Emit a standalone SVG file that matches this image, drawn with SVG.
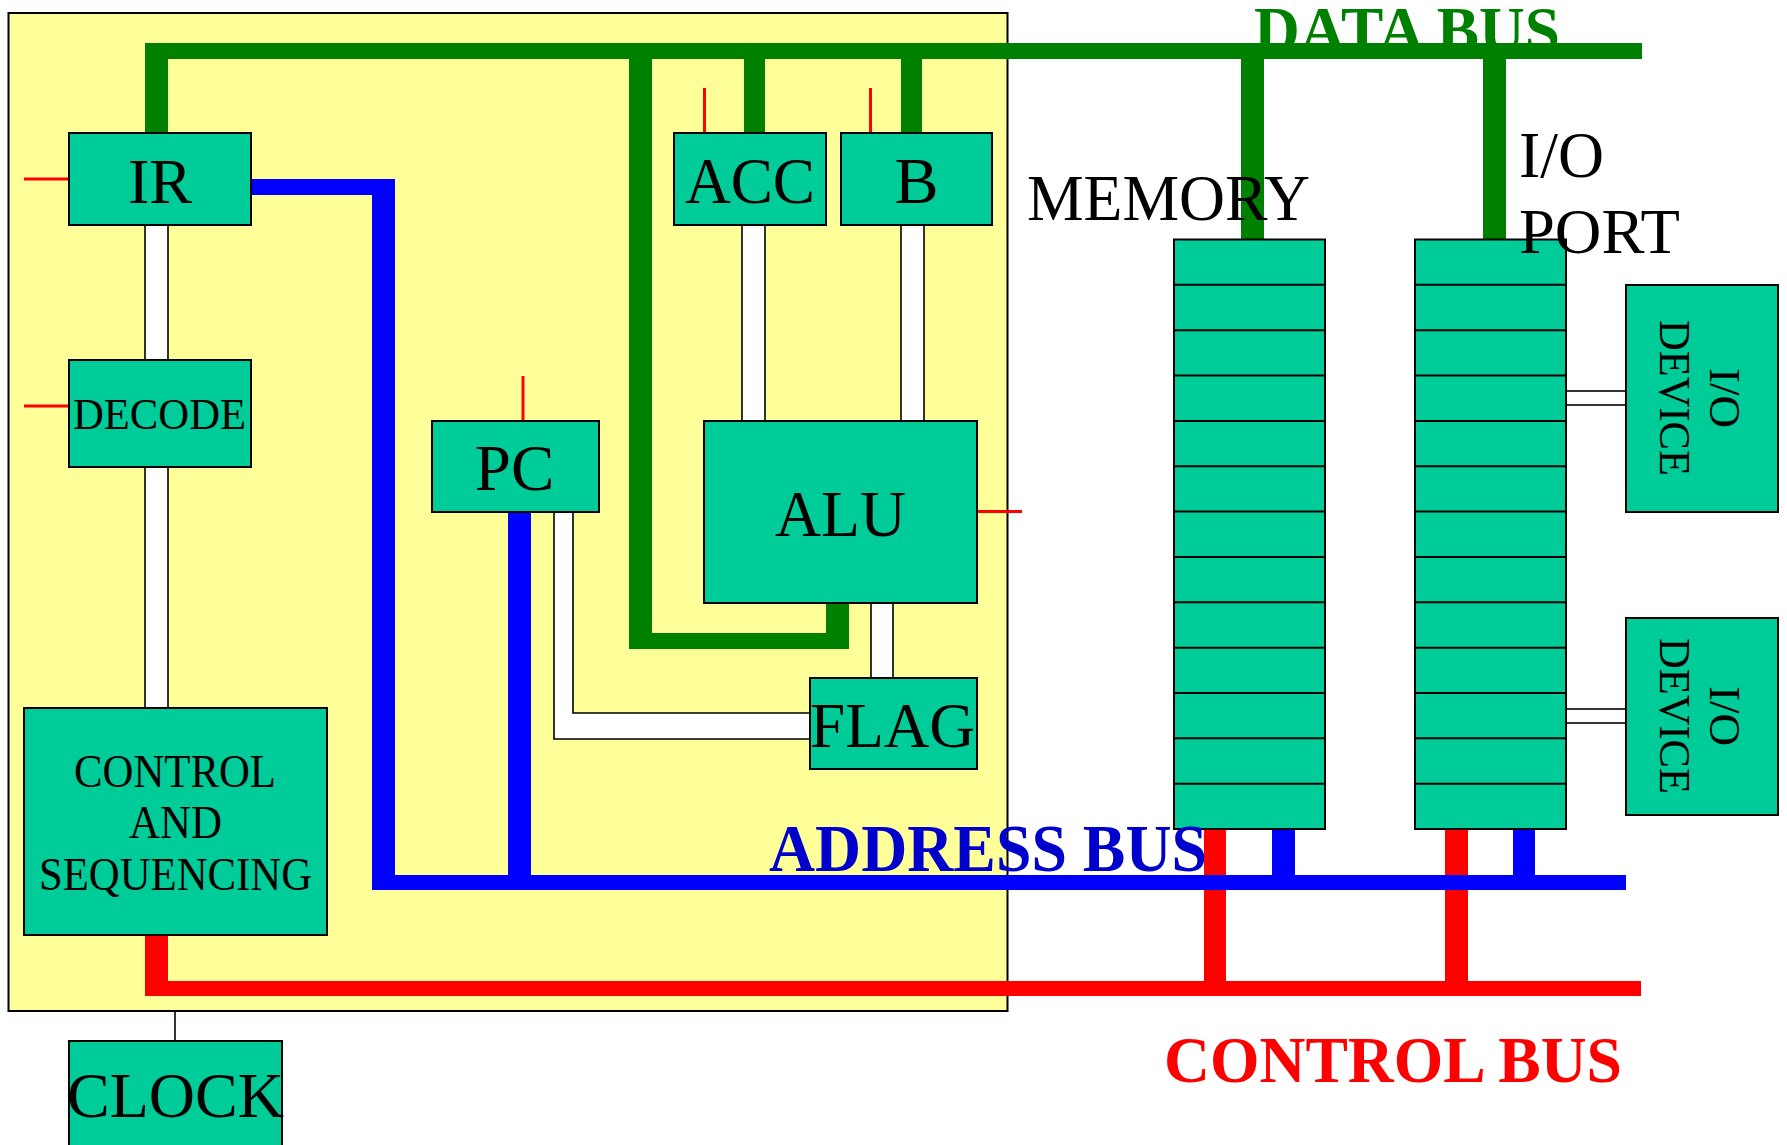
<svg xmlns="http://www.w3.org/2000/svg" width="1787" height="1145" viewBox="0 0 1787 1145">
<style>
  .box{fill:#00CC99;stroke:#000;stroke-width:2}
  .lbl{font-family:"Liberation Serif","Times New Roman",serif;fill:#000}
  .bus{font-family:"Liberation Serif","Times New Roman",serif;font-weight:bold}
  .wire{fill:#fff;stroke:#000;stroke-width:1.6}
  .sig{stroke:#FF0000;stroke-width:3;fill:none}
  .cell{stroke:#000;stroke-width:2}
</style>
<rect width="1787" height="1145" fill="#fff"/>
<!-- CPU area -->
<rect id="cpu" x="8.5" y="13" width="999" height="998" fill="#FFFF99" stroke="#000" stroke-width="2"/>

<text id="data-bus-label" class="bus" x="1254" y="52" font-size="66" fill="#008000" textLength="306" lengthAdjust="spacingAndGlyphs">DATA BUS</text>

<g id="connectors">
  <!-- control bus (red) -->
  <rect x="145" y="981" width="1496" height="15" fill="#FF0000"/>
  <rect x="145" y="934" width="23" height="50" fill="#FF0000"/>
  <rect x="1204" y="828" width="22" height="156" fill="#FF0000"/>
  <rect x="1445" y="828" width="23" height="156" fill="#FF0000"/>
  <!-- address bus (blue) -->
  <polygon points="250,179 395,179 395,875 1626,875 1626,890 372,890 372,195 250,195" fill="#0000FF"/>
  <rect x="508" y="511" width="23" height="366" fill="#0000FF"/>
  <rect x="1272" y="828" width="23" height="49" fill="#0000FF"/>
  <rect x="1513" y="828" width="22" height="49" fill="#0000FF"/>
  <!-- data bus (green) -->
  <rect x="145" y="43" width="1497" height="16" fill="#008000"/>
  <rect x="145" y="43" width="23" height="91" fill="#008000"/>
  <polygon points="629,50 652,50 652,633 826,633 826,602 849,602 849,649 629,649" fill="#008000"/>
  <rect x="744" y="43" width="21" height="91" fill="#008000"/>
  <rect x="901" y="43" width="21" height="91" fill="#008000"/>
  <rect x="1241" y="43" width="23" height="197" fill="#008000"/>
  <rect x="1483" y="43" width="23" height="197" fill="#008000"/>
  <!-- internal white paths -->
  <rect class="wire" x="145" y="225" width="23" height="135"/>
  <rect class="wire" x="145" y="467" width="23" height="241"/>
  <rect class="wire" x="742" y="225" width="23" height="196"/>
  <rect class="wire" x="901" y="225" width="23" height="196"/>
  <rect class="wire" x="871" y="603" width="22" height="75"/>
  <polygon class="wire" points="554,512 573,512 573,713 810,713 810,739 554,739"/>
  <rect class="wire" x="1566" y="391" width="60" height="14"/>
  <rect class="wire" x="1566" y="709" width="60" height="14"/>
  <!-- control signal ticks -->
  <line class="sig" x1="24" y1="179" x2="69" y2="179"/>
  <line class="sig" x1="24" y1="406" x2="69" y2="406"/>
  <line class="sig" x1="523" y1="376" x2="523" y2="421"/>
  <line class="sig" x1="704.5" y1="88" x2="704.5" y2="133"/>
  <line class="sig" x1="870.5" y1="88" x2="870.5" y2="133"/>
  <line class="sig" x1="977" y1="511.5" x2="1022" y2="511.5"/>
  <!-- clock line -->
  <line x1="175" y1="1011" x2="175" y2="1041" stroke="#000" stroke-width="1.6"/>
</g>

<g id="ir">
  <rect class="box" x="69" y="133" width="182" height="92"/>
  <text class="lbl" x="160" y="203" font-size="64" text-anchor="middle">IR</text>
</g>
<g id="decode">
  <rect class="box" x="69" y="360" width="182" height="107"/>
  <text class="lbl" x="73" y="429" font-size="44" textLength="173" lengthAdjust="spacingAndGlyphs">DECODE</text>
</g>
<g id="control">
  <rect class="box" x="24" y="708" width="303" height="227"/>
  <text class="lbl" x="74" y="787" font-size="47" textLength="202" lengthAdjust="spacingAndGlyphs">CONTROL</text>
  <text class="lbl" x="129" y="838" font-size="47" textLength="93" lengthAdjust="spacingAndGlyphs">AND</text>
  <text class="lbl" x="39" y="890" font-size="47" textLength="273" lengthAdjust="spacingAndGlyphs">SEQUENCING</text>
</g>
<g id="clock">
  <rect class="box" x="69" y="1041" width="213" height="120"/>
  <text class="lbl" x="67" y="1117" font-size="63" textLength="217" lengthAdjust="spacingAndGlyphs">CLOCK</text>
</g>
<g id="pc">
  <rect class="box" x="432" y="421" width="167" height="91"/>
  <text class="lbl" x="514.5" y="490" font-size="65" text-anchor="middle">PC</text>
</g>
<g id="acc">
  <rect class="box" x="674" y="133" width="152" height="92"/>
  <text class="lbl" x="685" y="203" font-size="66" textLength="130" lengthAdjust="spacingAndGlyphs">ACC</text>
</g>
<g id="b">
  <rect class="box" x="841" y="133" width="151" height="92"/>
  <text class="lbl" x="916.5" y="203" font-size="66" text-anchor="middle">B</text>
</g>
<g id="alu">
  <rect class="box" x="704" y="421" width="273" height="182"/>
  <text class="lbl" x="775" y="536" font-size="65" textLength="131" lengthAdjust="spacingAndGlyphs">ALU</text>
</g>
<g id="flag">
  <rect class="box" x="810" y="678" width="167" height="91"/>
  <text class="lbl" x="810" y="747" font-size="63" textLength="165" lengthAdjust="spacingAndGlyphs">FLAG</text>
</g>
<g id="memory">
  <rect class="box" x="1174" y="239.5" width="151" height="589.5"/>
  <path class="cell" d="M1174 284.85H1325M1174 330.2H1325M1174 375.55H1325M1174 420.9H1325M1174 466.25H1325M1174 511.6H1325M1174 556.95H1325M1174 602.3H1325M1174 647.65H1325M1174 693H1325M1174 738.35H1325M1174 783.7H1325"/>
</g>
<g id="io-port">
  <rect class="box" x="1415" y="239.5" width="151" height="589.5"/>
  <path class="cell" d="M1415 284.85H1566M1415 330.2H1566M1415 375.55H1566M1415 420.9H1566M1415 466.25H1566M1415 511.6H1566M1415 556.95H1566M1415 602.3H1566M1415 647.65H1566M1415 693H1566M1415 738.35H1566M1415 783.7H1566"/>
</g>
<g id="io-device-1">
  <rect class="box" x="1626" y="285" width="152" height="227"/>
  <g transform="translate(1710,398) rotate(90)">
    <text class="lbl" x="0" y="0" font-size="45" text-anchor="middle">I/O</text>
    <text class="lbl" x="-78" y="50" font-size="45" textLength="156" lengthAdjust="spacingAndGlyphs">DEVICE</text>
  </g>
</g>
<g id="io-device-2">
  <rect class="box" x="1626" y="618" width="152" height="197"/>
  <g transform="translate(1710,716) rotate(90)">
    <text class="lbl" x="0" y="0" font-size="45" text-anchor="middle">I/O</text>
    <text class="lbl" x="-78" y="50" font-size="45" textLength="156" lengthAdjust="spacingAndGlyphs">DEVICE</text>
  </g>
</g>

<g id="labels">
  <text class="lbl" x="1027" y="220" font-size="65" textLength="283" lengthAdjust="spacingAndGlyphs">MEMORY</text>
  <text class="lbl" x="1519" y="177" font-size="65" textLength="85" lengthAdjust="spacingAndGlyphs">I/O</text>
  <text class="lbl" x="1519" y="253" font-size="64" textLength="161" lengthAdjust="spacingAndGlyphs">PORT</text>
  <text class="bus" x="769" y="871" font-size="67" fill="#0000CC" textLength="438" lengthAdjust="spacingAndGlyphs">ADDRESS BUS</text>
  <text class="bus" x="1164" y="1082" font-size="66" fill="#FF0000" textLength="458" lengthAdjust="spacingAndGlyphs">CONTROL BUS</text>
</g>
</svg>
